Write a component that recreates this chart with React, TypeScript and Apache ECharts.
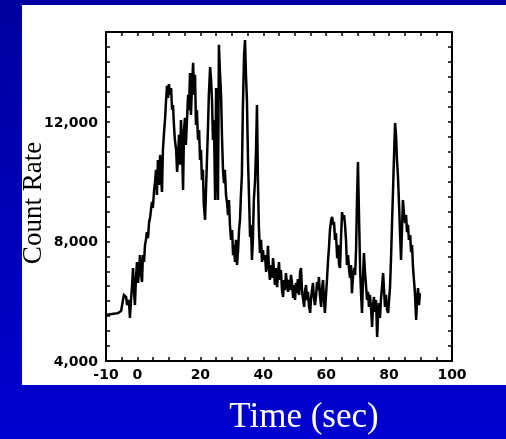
import React, { useEffect, useRef } from "react";
import * as echarts from "echarts";

// Time (sec) and count rate
const times: number[] = [
  -10.0, -8.1, -6.2, -5.2, -4.6, -4.3, -3.6, -3.3, -2.7, -2.4, -2.05, -1.7, -1.4, -1.1, -0.8, -0.5, -0.15, 0.2, 0.5, 0.8,
  1.1, 1.45, 1.75, 2.1, 2.4, 2.7, 3.0, 3.35, 3.7, 4.0, 4.3, 4.6, 4.9, 5.3, 5.6, 5.9, 6.2, 6.5, 6.85, 7.2,
  7.5, 7.8, 8.1, 8.4, 8.8, 9.1, 9.4, 9.7, 10.0, 10.35, 10.7, 11.0, 11.3, 11.6, 11.9, 12.3, 12.6, 12.9, 13.2, 13.5,
  13.85, 14.2, 14.5, 14.8, 15.1, 15.4, 15.75, 16.1, 16.4, 16.7, 17.0, 17.35, 17.7, 18.0, 18.3, 18.6, 18.9, 19.25, 19.6, 19.9,
  20.2, 20.5, 20.8, 21.1, 21.5, 21.8, 22.1, 22.4, 22.7, 23.1, 23.4, 23.7, 24.0, 24.3, 24.7, 25.0, 25.3, 25.6, 25.9, 26.2,
  26.6, 26.9, 27.2, 27.5, 27.8, 28.15, 28.5, 28.8, 29.1, 29.4, 29.75, 30.1, 30.4, 30.7, 31.0, 31.3, 31.65, 32.0, 32.3, 32.6,
  32.9, 33.2, 33.5, 33.9, 34.2, 34.5, 34.8, 35.15, 35.5, 35.8, 36.1, 36.4, 36.7, 37.0, 37.4, 37.7, 38.0, 38.3, 38.6, 38.95,
  39.3, 39.6, 39.9, 40.2, 40.55, 40.9, 41.2, 41.5, 41.8, 42.1, 42.5, 42.8, 43.1, 43.4, 43.7, 44.05, 44.4, 44.7, 45.0, 45.3,
  45.6, 45.96, 46.3, 46.6, 46.9, 47.2, 47.55, 47.9, 48.2, 48.5, 48.8, 49.1, 49.5, 49.8, 50.1, 50.4, 50.7, 51.0, 51.4, 51.7,
  52.0, 52.3, 52.6, 53.0, 53.3, 53.6, 53.9, 54.2, 54.5, 54.9, 55.2, 55.5, 55.8, 56.1, 56.45, 56.8, 57.1, 57.4, 57.7, 58.0,
  58.4, 58.7, 59.0, 59.3, 59.6, 59.95, 60.3, 60.6, 60.9, 61.2, 61.6, 61.9, 62.2, 62.5, 62.8, 63.1, 63.5, 63.8, 64.1, 64.4,
  64.7, 65.05, 65.4, 65.7, 66.0, 66.3, 66.6, 66.95, 67.3, 67.6, 67.9, 68.2, 68.5, 68.9, 69.2, 69.5, 69.8, 70.1, 70.4, 70.8,
  71.1, 71.4, 71.7, 72.0, 72.3, 72.7, 73.0, 73.3, 73.6, 73.9, 74.3, 74.6, 74.9, 75.2, 75.5, 75.85, 76.2, 76.5, 76.8, 77.1,
  77.4, 77.8, 78.1, 78.4, 78.7, 79.0, 79.35, 79.7, 80.0, 80.3, 80.6, 80.9, 81.3, 81.6, 81.9, 82.2, 82.5, 82.8, 83.2, 83.5,
  83.8, 84.1, 84.4, 84.7, 85.1, 85.4, 85.7, 86.0, 86.3, 86.7, 87.0, 87.3, 87.6, 87.9, 88.2, 88.6, 88.9, 89.2, 89.5, 89.8,
];

const counts: number[] = [
  5540, 5570, 5600, 5670, 6040, 6210, 6140, 5870, 6040, 5440, 6040, 6540, 7110, 6370, 5870, 6710, 7310, 6610, 7040, 7540,
  6970, 6640, 7540, 7310, 7880, 8050, 8310, 8110, 8650, 8780, 9050, 9320, 9120, 9720, 9990, 10390, 9550, 10720, 9890, 10890,
  10190, 9650, 11060, 11560, 12130, 12730, 13200, 12800, 13260, 12900, 13130, 12390, 12560, 11890, 11390, 11060, 10320, 10790, 11560, 10560,
  12060, 11060, 9720, 11720, 12130, 11220, 12060, 12900, 12390, 13630, 12230, 13230, 13970, 12900, 13570, 11890, 12390, 11390, 11720, 10720,
  11060, 10050, 10390, 9220, 8720, 9720, 10720, 11720, 12900, 13830, 13400, 12730, 11390, 12060, 9380, 13130, 10720, 9380, 14570, 13730,
  12830, 11390, 10390, 9950, 10390, 9550, 9280, 8880, 9380, 8550, 8050, 8380, 7540, 7880, 7310, 8050, 7210, 7710, 8380, 8720,
  9550, 10220, 12390, 14230, 14730, 13560, 12730, 10720, 9380, 8150, 8550, 7380, 8050, 9380, 10050, 11060, 12560, 10050, 8480, 7610,
  8050, 7310, 7710, 7380, 7540, 6980, 7310, 7850, 7110, 6710, 7210, 6780, 7440, 7040, 6540, 7110, 6470, 6980, 7310, 6710,
  7040, 6370, 6140, 6710, 6370, 6940, 6570, 6310, 6710, 6370, 6880, 6640, 6110, 6540, 6040, 6610, 6270, 6740, 6210, 6980,
  7110, 6370, 6110, 5810, 6370, 6540, 6040, 6310, 5870, 5610, 6110, 6370, 6610, 6110, 5870, 6210, 6640, 6370, 6810, 6210,
  5810, 6440, 6710, 6040, 5610, 6210, 6810, 7380, 7810, 8380, 8720, 8820, 8550, 8650, 8050, 8280, 7440, 7880, 7210, 7110,
  8050, 8980, 8720, 8880, 8550, 8050, 7210, 7540, 7040, 6780, 7210, 6270, 6780, 7110, 6880, 7710, 9380, 10650, 9050, 7040,
  6210, 5610, 6710, 7610, 7040, 6470, 6040, 6310, 5810, 6210, 5710, 5140, 5870, 6140, 5640, 6040, 4800, 5540, 5940, 5440,
  6040, 6540, 6940, 6370, 5810, 6210, 5710, 5610, 6040, 6480, 7380, 8480, 9890, 10960, 11960, 11560, 10720, 10220, 9150, 8210,
  7380, 8380, 9380, 8980, 8610, 8880, 8310, 8550, 8050, 8210, 7640, 7880, 7140, 6710, 6310, 5370, 6040, 6440, 5870, 6270,
];

const xLabelValues: number[] = [-10, 0, 20, 40, 60, 80, 100];
const yLabelValues: number[] = [4000, 8000, 12000];

export default function App() {
  const ref = useRef<HTMLDivElement>(null);

  useEffect(() => {
    if (!ref.current) return;
    const chart = echarts.init(ref.current, null, { renderer: "svg" });
    const data = times.map((t, i) => [t, counts[i]]);

    const axisCommon = {
      axisLine: { show: true, onZero: false, lineStyle: { color: "#000", width: 2 } },
      axisTick: { show: true, inside: true, length: 4, lineStyle: { color: "#000", width: 1.5 } },
      splitLine: { show: false },
    };
    const labelFont = {
      color: "#000",
      fontFamily: "DejaVu Sans",
      fontWeight: "bold" as const,
      fontSize: 14,
    };

    chart.setOption({
      animation: false,
      grid: { left: 106, right: 54, top: 32, bottom: 78, containLabel: false },
      xAxis: [
        {
          type: "value",
          position: "bottom",
          min: -10,
          max: 100,
          interval: 5,
          ...axisCommon,
          axisLabel: {
            ...labelFont,
            margin: 6,
            showMinLabel: true,
            showMaxLabel: true,
            formatter: (v: number) => (xLabelValues.includes(v) ? String(v) : ""),
          },
        },
        {
          type: "value",
          position: "top",
          min: -10,
          max: 100,
          interval: 5,
          ...axisCommon,
          axisLabel: { show: false },
        },
      ],
      yAxis: [
        {
          type: "value",
          position: "left",
          min: 4000,
          max: 15000,
          interval: 500,
          ...axisCommon,
          axisLabel: {
            ...labelFont,
            margin: 8,
            showMinLabel: true,
            formatter: (v: number) =>
              yLabelValues.includes(v) ? v.toLocaleString("en-US") : "",
          },
        },
        {
          type: "value",
          position: "right",
          min: 4000,
          max: 15000,
          interval: 500,
          ...axisCommon,
          axisLabel: { show: false },
        },
      ],
      graphic: [
        {
          type: "rect",
          z: -20,
          shape: { x: 0, y: 0, width: 506, height: 439 },
          style: {
            fill: new echarts.graphic.LinearGradient(0, 0, 0, 1, [
              { offset: 0, color: "#0000a0" },
              { offset: 1, color: "#0000d0" },
            ]),
          },
        },
        {
          type: "rect",
          z: -10,
          shape: { x: 22, y: 5, width: 484, height: 380 },
          style: { fill: "#ffffff" },
        },
        {
          type: "text",
          z: 10,
          x: 32,
          y: 203,
          rotation: Math.PI / 2,
          style: {
            text: "Count Rate",
            fill: "#000",
            font: "27px 'Liberation Serif'",
            textAlign: "center",
            textVerticalAlign: "middle",
          },
        },
        {
          type: "text",
          z: 10,
          x: 304,
          y: 415,
          style: {
            text: "Time (sec)",
            fill: "#ffffff",
            font: "35px 'Liberation Serif'",
            textAlign: "center",
            textVerticalAlign: "middle",
          },
        },
      ],
      series: [
        {
          type: "line",
          xAxisIndex: 0,
          yAxisIndex: 0,
          data,
          showSymbol: false,
          symbol: "none",
          lineStyle: { color: "#000", width: 2.5, join: "miter" },
          z: 5,
        },
      ],
    });

    return () => chart.dispose();
  }, []);

  return (
    <div
      ref={ref}
      style={{ position: "fixed", left: 0, top: 0, width: 506, height: 439 }}
    />
  );
}
